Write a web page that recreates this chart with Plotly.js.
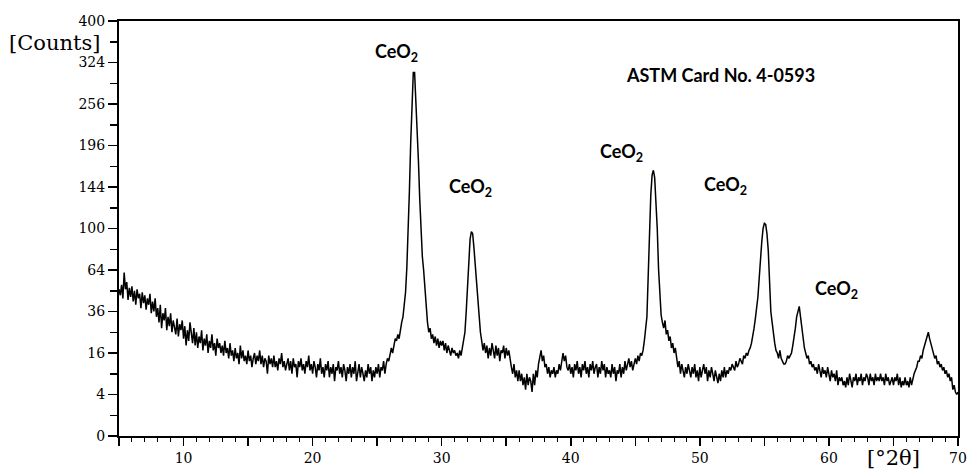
<!DOCTYPE html>
<html>
<head>
<meta charset="utf-8">
<script src="https://cdn.plot.ly/plotly-3.0.1.min.js"></script>
<style>html,body{margin:0;padding:0;background:#fff;}#chart{width:968px;height:469px;}</style>
</head>
<body>
<div id="chart"></div>
<script>
// Scan grid (degrees 2-theta)
const angleStart = 5.0;
const angleStep = 0.1;

// Intensity counts, 10 values per degree (5.0 ... 70.0)
const counts = [
  50, 46, 53, 44, 62, 50, 55, 43, 51, 45,
  52, 42, 49, 40, 50, 44, 47, 38, 48, 41,
  46, 37, 44, 40, 47, 35, 42, 36, 44, 33,
  38, 30, 40, 27, 35, 31, 38, 26, 33, 28,
  35, 25, 31, 27, 24, 32, 23, 29, 26, 31,
  22, 28, 19, 26, 21, 30, 24, 20, 27, 19,
  25, 18, 23, 20, 26, 17, 22, 19, 24, 16,
  21, 18, 24, 17, 20, 15, 22, 18, 20, 16,
  19, 15, 21, 16, 18, 14, 20, 15, 17, 13,
  18, 14, 16, 12, 19, 14, 17, 13, 15, 12,
  17, 13, 15, 11, 14, 16, 12, 15, 13, 17,
  12, 15, 11, 14, 13, 9, 15, 12, 14, 11,
  15, 11, 13, 10, 14, 12, 16, 11, 13, 10,
  12, 14, 10, 13, 9, 14, 11, 12, 8, 13,
  11, 14, 10, 12, 9, 13, 11, 15, 10, 12,
  9, 13, 11, 8, 12, 10, 14, 9, 11, 8,
  12, 10, 13, 8, 11, 9, 12, 7, 11, 10,
  13, 9, 11, 8, 12, 10, 7, 11, 9, 12,
  8, 11, 9, 13, 7, 10, 12, 8, 11, 9,
  7, 10, 8, 12, 9, 11, 7, 10, 8, 11,
  9, 12, 8, 11, 10, 13, 9, 12, 14, 13,
  15, 18, 16, 20, 22, 21, 24, 22, 27, 30,
  33, 40, 48, 66, 95, 140, 200, 270, 307, 307,
  262, 212, 175, 130, 95, 75, 64, 50, 38, 30,
  25, 27, 22, 24, 20, 23, 19, 22, 18, 21,
  19, 21, 17, 20, 16, 19, 17, 15, 18, 16,
  17, 15, 16, 14, 17, 15, 18, 22, 25, 36,
  54, 70, 90, 97, 95, 82, 68, 54, 40, 31,
  25, 21, 17, 20, 16, 19, 14, 18, 15, 20,
  17, 14, 19, 15, 18, 13, 17, 16, 19, 14,
  18, 15, 17, 13, 11, 9, 12, 8, 10, 7,
  10, 7, 9, 6, 8, 5, 9, 6, 8, 7,
  4.5, 9, 6, 10, 8, 12, 14, 17, 13, 15,
  11, 12, 9, 11, 8, 10, 9, 11, 8, 10,
  9, 12, 10, 14, 16, 13, 15, 11, 10, 12,
  9, 11, 8, 12, 10, 13, 9, 11, 8, 12,
  10, 13, 9, 11, 8, 12, 10, 13, 9, 11,
  12, 8, 11, 9, 13, 10, 12, 8, 11, 9,
  10, 8, 12, 9, 11, 7, 10, 9, 12, 8,
  11, 9, 13, 10, 12, 14, 11, 13, 10, 12,
  14, 12, 15, 13, 16, 15, 17, 21, 26, 33,
  60, 100, 135, 158, 164, 155, 130, 100, 65, 45,
  34, 30, 27, 31, 24, 26, 21, 23, 18, 20,
  16, 18, 14, 11, 13, 9, 12, 10, 8, 11,
  9, 12, 10, 8, 11, 9, 12, 8, 10, 7,
  11, 8, 10, 12, 9, 11, 7, 10, 8, 11,
  9, 7, 10, 8, 6.5, 9, 7, 10, 8, 11,
  8, 10, 9, 11, 10, 12, 11, 10, 13, 11,
  12, 14, 13, 12, 15, 14, 16, 15, 17, 18,
  20, 23, 27, 32, 38, 45, 58, 75, 88, 100,
  105, 104, 95, 80, 52, 36, 30, 24, 20, 17,
  16, 14, 17, 14, 13, 12, 12, 13, 15, 14,
  15, 16, 19, 22, 27, 33, 37, 39, 33, 27,
  22, 18, 16, 14, 15, 12, 13, 11, 12, 10,
  11, 9, 12, 10, 8, 11, 9, 10, 8, 11,
  9, 7, 10, 8, 9, 7, 10, 6, 8, 7,
  8, 6, 7, 5.5, 8, 6, 9, 7, 5.5, 8,
  7, 9, 6, 8, 7, 9, 6, 8, 7, 9,
  8, 6, 9, 7, 8, 6, 9, 7, 8, 7,
  9, 7, 8, 6, 9, 7, 8, 6, 7, 8,
  6, 8, 7, 9, 6, 8, 5.5, 7, 6, 8,
  6, 7, 5.5, 8, 6, 8, 9, 10, 11, 13,
  13, 15, 14, 17, 19, 21, 23, 25, 22, 20,
  18, 16, 14, 15, 12, 13, 11, 12, 10, 11,
  9, 10, 8, 9, 7, 8, 5, 6, 4.5, 4,
  4.5
];

// Axis ticks
const countTicks = [0, 4, 16, 36, 64, 100, 144, 196, 256, 324, 400];
const angleTicks = [5, 10, 15, 20, 25, 30, 35, 40, 45, 50, 55, 60, 65, 70];
const angleTickLabels = ['', '10', '', '20', '', '30', '', '40', '', '50', '', '60', '', '70'];

// Peak labels
const peakLabelText = ['CeO<sub>2</sub>', 'CeO<sub>2</sub>', 'CeO<sub>2</sub>', 'CeO<sub>2</sub>', 'CeO<sub>2</sub>'];
const cardText = 'ASTM Card No. 4-0593';

const angles = counts.map((_, i) => +(angleStart + i * angleStep).toFixed(2));
const sqrtCounts = counts.map(c => Math.sqrt(c));

const trace = {
  x: angles,
  y: sqrtCounts,
  type: 'scatter',
  mode: 'lines',
  line: {color: '#000', width: 1.5},
  hoverinfo: 'skip'
};

const labelPos = [[26.52, 18.46], [32.2, 12.0], [43.9, 13.64], [52.0, 12.05], [60.6, 7.08]];
const labelFont = {family: 'Lato, "Liberation Sans", sans-serif', size: 18, color: '#000'};

const annotations = peakLabelText.map((t, i) => ({
  x: labelPos[i][0], y: labelPos[i][1], xref: 'x', yref: 'y',
  text: '<b>' + t + '</b>', showarrow: false, xanchor: 'center', yanchor: 'middle',
  font: labelFont
}));
annotations.push({
  x: 51.6, y: 17.4, xref: 'x', yref: 'y', text: '<b>' + cardText + '</b>',
  showarrow: false, xanchor: 'center', yanchor: 'middle', font: labelFont
});
annotations.push({
  x: -0.02, y: 0.947, xref: 'paper', yref: 'paper', text: '[Counts]',
  showarrow: false, xanchor: 'right', yanchor: 'middle',
  font: {family: '"DejaVu Serif", serif', size: 21, color: '#000'}
});
annotations.push({
  x: 0.9237, y: -0.053, xref: 'paper', yref: 'paper', text: '[°2θ]',
  showarrow: false, xanchor: 'center', yanchor: 'middle',
  font: {family: '"DejaVu Serif", serif', size: 21, color: '#000'}
});

const tickFont = {family: '"DejaVu Serif", serif', size: 14, color: '#000'};

const layout = {
  width: 968, height: 469,
  margin: {l: 119, r: 10, t: 21, b: 33},
  paper_bgcolor: '#fff', plot_bgcolor: '#fff',
  showlegend: false,
  xaxis: {
    range: [5, 70], showgrid: false, zeroline: false,
    showline: true, linecolor: '#000', linewidth: 2, mirror: true,
    tickmode: 'array', tickvals: angleTicks, ticktext: angleTickLabels,
    ticks: 'outside', ticklen: 8, tickwidth: 1.5, tickcolor: '#000',
    tickfont: tickFont,
    minor: {tickmode: 'linear', tick0: 5, dtick: 1, ticks: 'outside', ticklen: 4, tickwidth: 1, tickcolor: '#000', showgrid: false}
  },
  yaxis: {
    range: [0, 20], showgrid: false, zeroline: false,
    showline: true, linecolor: '#000', linewidth: 2, mirror: true,
    tickmode: 'array', tickvals: countTicks.map(Math.sqrt), ticktext: countTicks.map(String),
    ticks: 'outside', ticklen: 9, tickwidth: 1.5, tickcolor: '#000',
    tickfont: tickFont,
    minor: {tickmode: 'linear', tick0: 0, dtick: 1, ticks: 'outside', ticklen: 7, tickwidth: 1.5, tickcolor: '#000', showgrid: false}
  },
  annotations: annotations
};

Plotly.newPlot('chart', [trace], layout, {displayModeBar: false, staticPlot: true});
</script>
</body>
</html>
